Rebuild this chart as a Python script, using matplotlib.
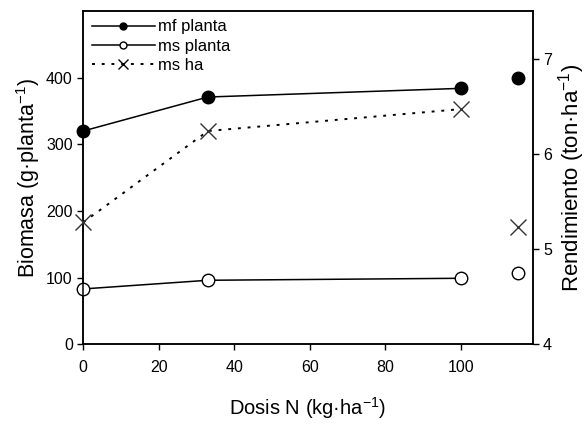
import numpy as np
import matplotlib
matplotlib.use("Agg")
import matplotlib.pyplot as plt

plt.rcParams['font.family'] = ['Liberation Sans', 'DejaVu Sans']
plt.rcParams['mathtext.fontset'] = 'custom'
plt.rcParams['mathtext.rm'] = 'Liberation Sans'
plt.rcParams['mathtext.it'] = 'Liberation Sans:italic'
plt.rcParams['mathtext.default'] = 'regular'

# datos
dosis = [0, 33, 100]
mf_planta = [320, 371, 384]
ms_planta = [83, 96, 99]
ms_ha = [5.28, 6.24, 6.47]

# punto suelto a la derecha
x_extra = [115]
mf_extra = [400]
ms_extra = [107]
ha_extra = [5.23]

fig, ax = plt.subplots(figsize=(5.86, 4.25), dpi=100)
fig.subplots_adjust(left=0.142, right=0.909, top=0.974, bottom=0.19)
ax2 = ax.twinx()

dots = (0, (1.5, 3.5))

ax.plot(dosis, mf_planta, '-', color='black', lw=1.1)
ax.plot(dosis, mf_planta, 'o', color='black', ms=9, clip_on=False, zorder=5)
ax.plot(x_extra, mf_extra, 'o', color='black', ms=9, clip_on=False)
ax.plot(dosis, ms_planta, '-', color='black', lw=1.1)
ax.plot(dosis, ms_planta, 'o', mfc='white', mec='black', ms=9, clip_on=False, zorder=5)
ax.plot(x_extra, ms_extra, 'o', mfc='white', mec='black', ms=9, clip_on=False)

ax2.plot(dosis, ms_ha, color='black', lw=1.4, ls=dots)
ax2.plot(dosis, ms_ha, 'x', color='#333333', ms=11, mew=1.0, clip_on=False, zorder=5)
ax2.plot(x_extra, ha_extra, 'x', color='#333333', ms=11, mew=1.0, clip_on=False)

ax.set_xlim(0, 119)
ax.set_ylim(0, 500)
ax.set_yticks([0, 100, 200, 300, 400])
ax.set_xticks([0, 20, 40, 60, 80, 100])
ax2.set_ylim(4, 7.5)
ax2.set_yticks([4, 5, 6, 7])

for a in (ax, ax2):
    a.tick_params(direction='out', length=4, width=1, labelsize=11.5)
    for s in a.spines.values():
        s.set_linewidth(1.1)
ax.tick_params(axis='x', pad=7)

ax.set_xlabel('Dosis N (kg·ha$^{-1}$)', fontsize=14.5, labelpad=15)
ax.set_ylabel('Biomasa (g·planta$^{-1}$)', fontsize=15.5, labelpad=3)
ax2.set_ylabel('Rendimiento (ton·ha$^{-1}$)', fontsize=16, labelpad=3)

h1 = plt.Line2D([], [], color='black', lw=1.1, marker='o', ms=5)
h2 = plt.Line2D([], [], color='black', lw=1.1, marker='o', ms=5, mfc='white')
h3 = plt.Line2D([], [], color='black', lw=1.4, ls=dots, marker='x', ms=7, mew=1.0)
ax.legend([h1, h2, h3], ['mf planta', 'ms planta', 'ms ha'], loc='upper left',
          frameon=False, fontsize=12, handlelength=3.8, handletextpad=0.2,
          labelspacing=0.25, borderaxespad=0.2, borderpad=0.3,
          bbox_to_anchor=(0.0, 1.0))

fig.savefig('out.png', dpi=100)
